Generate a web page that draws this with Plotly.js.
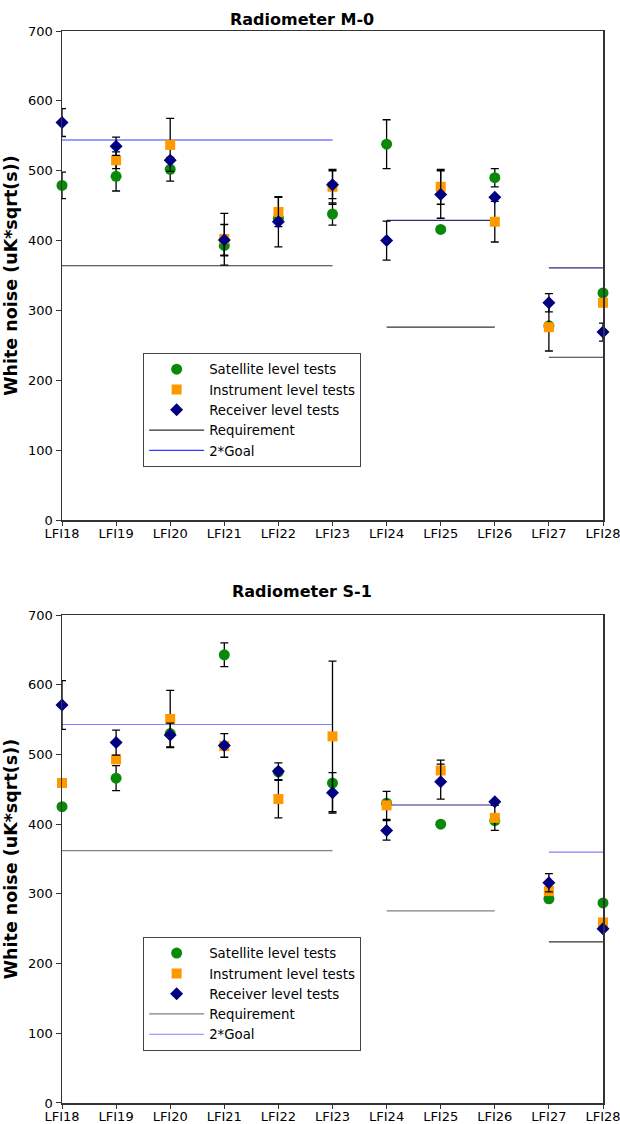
<!DOCTYPE html>
<html>
<head>
<meta charset="utf-8">
<script src="https://cdn.plot.ly/plotly-3.0.1.min.js"></script>
<style>
  body { margin: 0; background: white; }
  #chart { width: 620px; height: 1124px; }
</style>
</head>
<body>
<div id="chart"></div>
<script>
var cats = ['LFI18', 'LFI19', 'LFI20', 'LFI21', 'LFI22', 'LFI23', 'LFI24', 'LFI25', 'LFI26', 'LFI27', 'LFI28'];
var yTicks = [0, 100, 200, 300, 400, 500, 600, 700];

// Radiometer M-0
var m0Satellite    = [479, 492, 502, 393, 432, 438, 538, 416, 490, 278, 325];
var m0SatelliteErr = [19, 21, 17, 15, 0, 16, 35, 0, 13, 0, 0];
var m0Instrument    = [null, 515, 537, 402, 441, 477, null, 477, 427, 276, 311];
var m0InstrumentErr = [0, 12, 38, 37, 21, 25, 0, 25, 29, 34, 0];
var m0Receiver    = [569, 535, 515, 401, 427, 480, 400, 466, 462, 311, 269];
var m0ReceiverErr = [20, 13, 0, 22, 36, 20, 28, 34, 0, 13, 13];
var m0Requirement = [364, 276, 233];
var m0Goal        = [544, 429, 361];

// Radiometer S-1
var s1Satellite    = [425, 466, 530, 643, 475, 459, 430, 400, 405, 293, 287];
var s1SatelliteErr = [0, 18, 0, 17, 0, 0, 0, 0, 0, 0, 0];
var s1Instrument    = [459, 493, 551, 512, 436, 526, 427, 477, 409, 304, 259];
var s1InstrumentErr = [0, 0, 41, 0, 27, 108, 20, 15, 18, 0, 0];
var s1Receiver    = [571, 517, 528, 513, 476, 445, 391, 461, 432, 316, 250];
var s1ReceiverErr = [35, 18, 17, 17, 12, 29, 14, 25, 0, 13, 0];
var s1Requirement = [362, 275.5, 231];
var s1Goal        = [543, 427.5, 360];

// each limit holds for a group of channels
var segments = [['LFI18', 'LFI23'], ['LFI24', 'LFI26'], ['LFI27', 'LFI28']];

var data = [];

function pointTrace(name, y, err, symbol, color, size, xa, ya, leg)
{
  return {
    x: cats, y: y, name: name, type: 'scatter', mode: 'markers',
    xaxis: xa, yaxis: ya, legend: leg, cliponaxis: false, legendrank: 1000,
    marker: { symbol: symbol, color: color, size: size },
    error_y: { type: 'data', array: err, visible: true, color: 'black', thickness: 1.3, width: 4 }
  };
}

function limitTraces(name, levels, colors, xa, ya, leg)
{
  for (var i = 0; i < segments.length; i++) {
    data.push({
      x: segments[i], y: [levels[i], levels[i]], name: name, type: 'scatter', mode: 'lines',
      xaxis: xa, yaxis: ya, legend: leg, legendgroup: name + leg, showlegend: i === 0,
      cliponaxis: false, hoverinfo: 'skip', legendrank: 2000,
      line: { color: colors[i], width: 1.2 }
    });
  }
}

// top chart
limitTraces('Requirement', m0Requirement, ['#333333', '#333333', '#333333'], 'x', 'y', 'legend');
limitTraces('2*Goal', m0Goal, ['#3a3aff', '#2b2b80', '#2b2b80'], 'x', 'y', 'legend');
data.push(pointTrace('Satellite level tests', m0Satellite, m0SatelliteErr, 'circle', '#088a08', 11, 'x', 'y', 'legend'));
data.push(pointTrace('Instrument level tests', m0Instrument, m0InstrumentErr, 'square', '#ff9900', 10, 'x', 'y', 'legend'));
data.push(pointTrace('Receiver level tests', m0Receiver, m0ReceiverErr, 'diamond', '#000080', 10, 'x', 'y', 'legend'));

// bottom chart
limitTraces('Requirement', s1Requirement, ['#808080', '#808080', '#333333'], 'x2', 'y2', 'legend2');
limitTraces('2*Goal', s1Goal, ['#8080ff', '#2b2b80', '#8080ff'], 'x2', 'y2', 'legend2');
data.push(pointTrace('Satellite level tests', s1Satellite, s1SatelliteErr, 'circle', '#088a08', 11, 'x2', 'y2', 'legend2'));
data.push(pointTrace('Instrument level tests', s1Instrument, s1InstrumentErr, 'square', '#ff9900', 10, 'x2', 'y2', 'legend2'));
data.push(pointTrace('Receiver level tests', s1Receiver, s1ReceiverErr, 'diamond', '#000080', 10, 'x2', 'y2', 'legend2'));

var xaxisBase = {
  type: 'category', categoryarray: cats, range: [0, 10],
  showline: true, linecolor: '#333', linewidth: 1.5, mirror: true,
  ticks: 'outside', ticklen: 4, tickcolor: '#333', showgrid: false, zeroline: false,
  ticklabelstandoff: -3,
  tickfont: { size: 13, color: 'black' }
};
var yaxisBase = {
  range: [0, 700], tickvals: yTicks,
  showline: true, linecolor: '#333', linewidth: 1.5, mirror: true,
  ticks: 'outside', ticklen: 5, tickcolor: '#333', showgrid: false, zeroline: false,
  tickfont: { size: 13, color: 'black' },
  title: { text: '<b>White noise (uK*sqrt(s))</b>', font: { size: 17.5, color: 'black' }, standoff: 6 }
};
var legendBase = {
  bgcolor: 'white', bordercolor: '#444', borderwidth: 1,
  font: { size: 13.3, color: 'black' }, xanchor: 'left', yanchor: 'top',
  tracegroupgap: 0, itemwidth: 55
};

var layout = {
  width: 620, height: 1124,
  margin: { l: 62, r: 17, t: 31, b: 21 },
  font: { family: 'DejaVu Sans, sans-serif', color: 'black' },
  paper_bgcolor: 'white', plot_bgcolor: 'white',
  xaxis: Object.assign({}, xaxisBase, { anchor: 'y' }),
  yaxis: Object.assign({}, yaxisBase, { domain: [0.5438, 1], anchor: 'x' }),
  xaxis2: Object.assign({}, xaxisBase, { anchor: 'y2' }),
  yaxis2: Object.assign({}, yaxisBase, { domain: [0, 0.4552], anchor: 'x2' }),
  legend: Object.assign({}, legendBase, { x: 0.15, y: 0.6996 }),
  legend2: Object.assign({}, legendBase, { x: 0.15, y: 0.1549 }),
  showlegend: true,
  annotations: [
    { text: '<b>Radiometer M-0</b>', xref: 'paper', yref: 'paper', x: 0.444, y: 1.0214,
      showarrow: false, font: { size: 16, color: 'black' } },
    { text: '<b>Radiometer S-1</b>', xref: 'paper', yref: 'paper', x: 0.444, y: 0.4767,
      showarrow: false, font: { size: 16, color: 'black' } }
  ]
};

Plotly.newPlot('chart', data, layout, { displayModeBar: false, staticPlot: true });
</script>
</body>
</html>
